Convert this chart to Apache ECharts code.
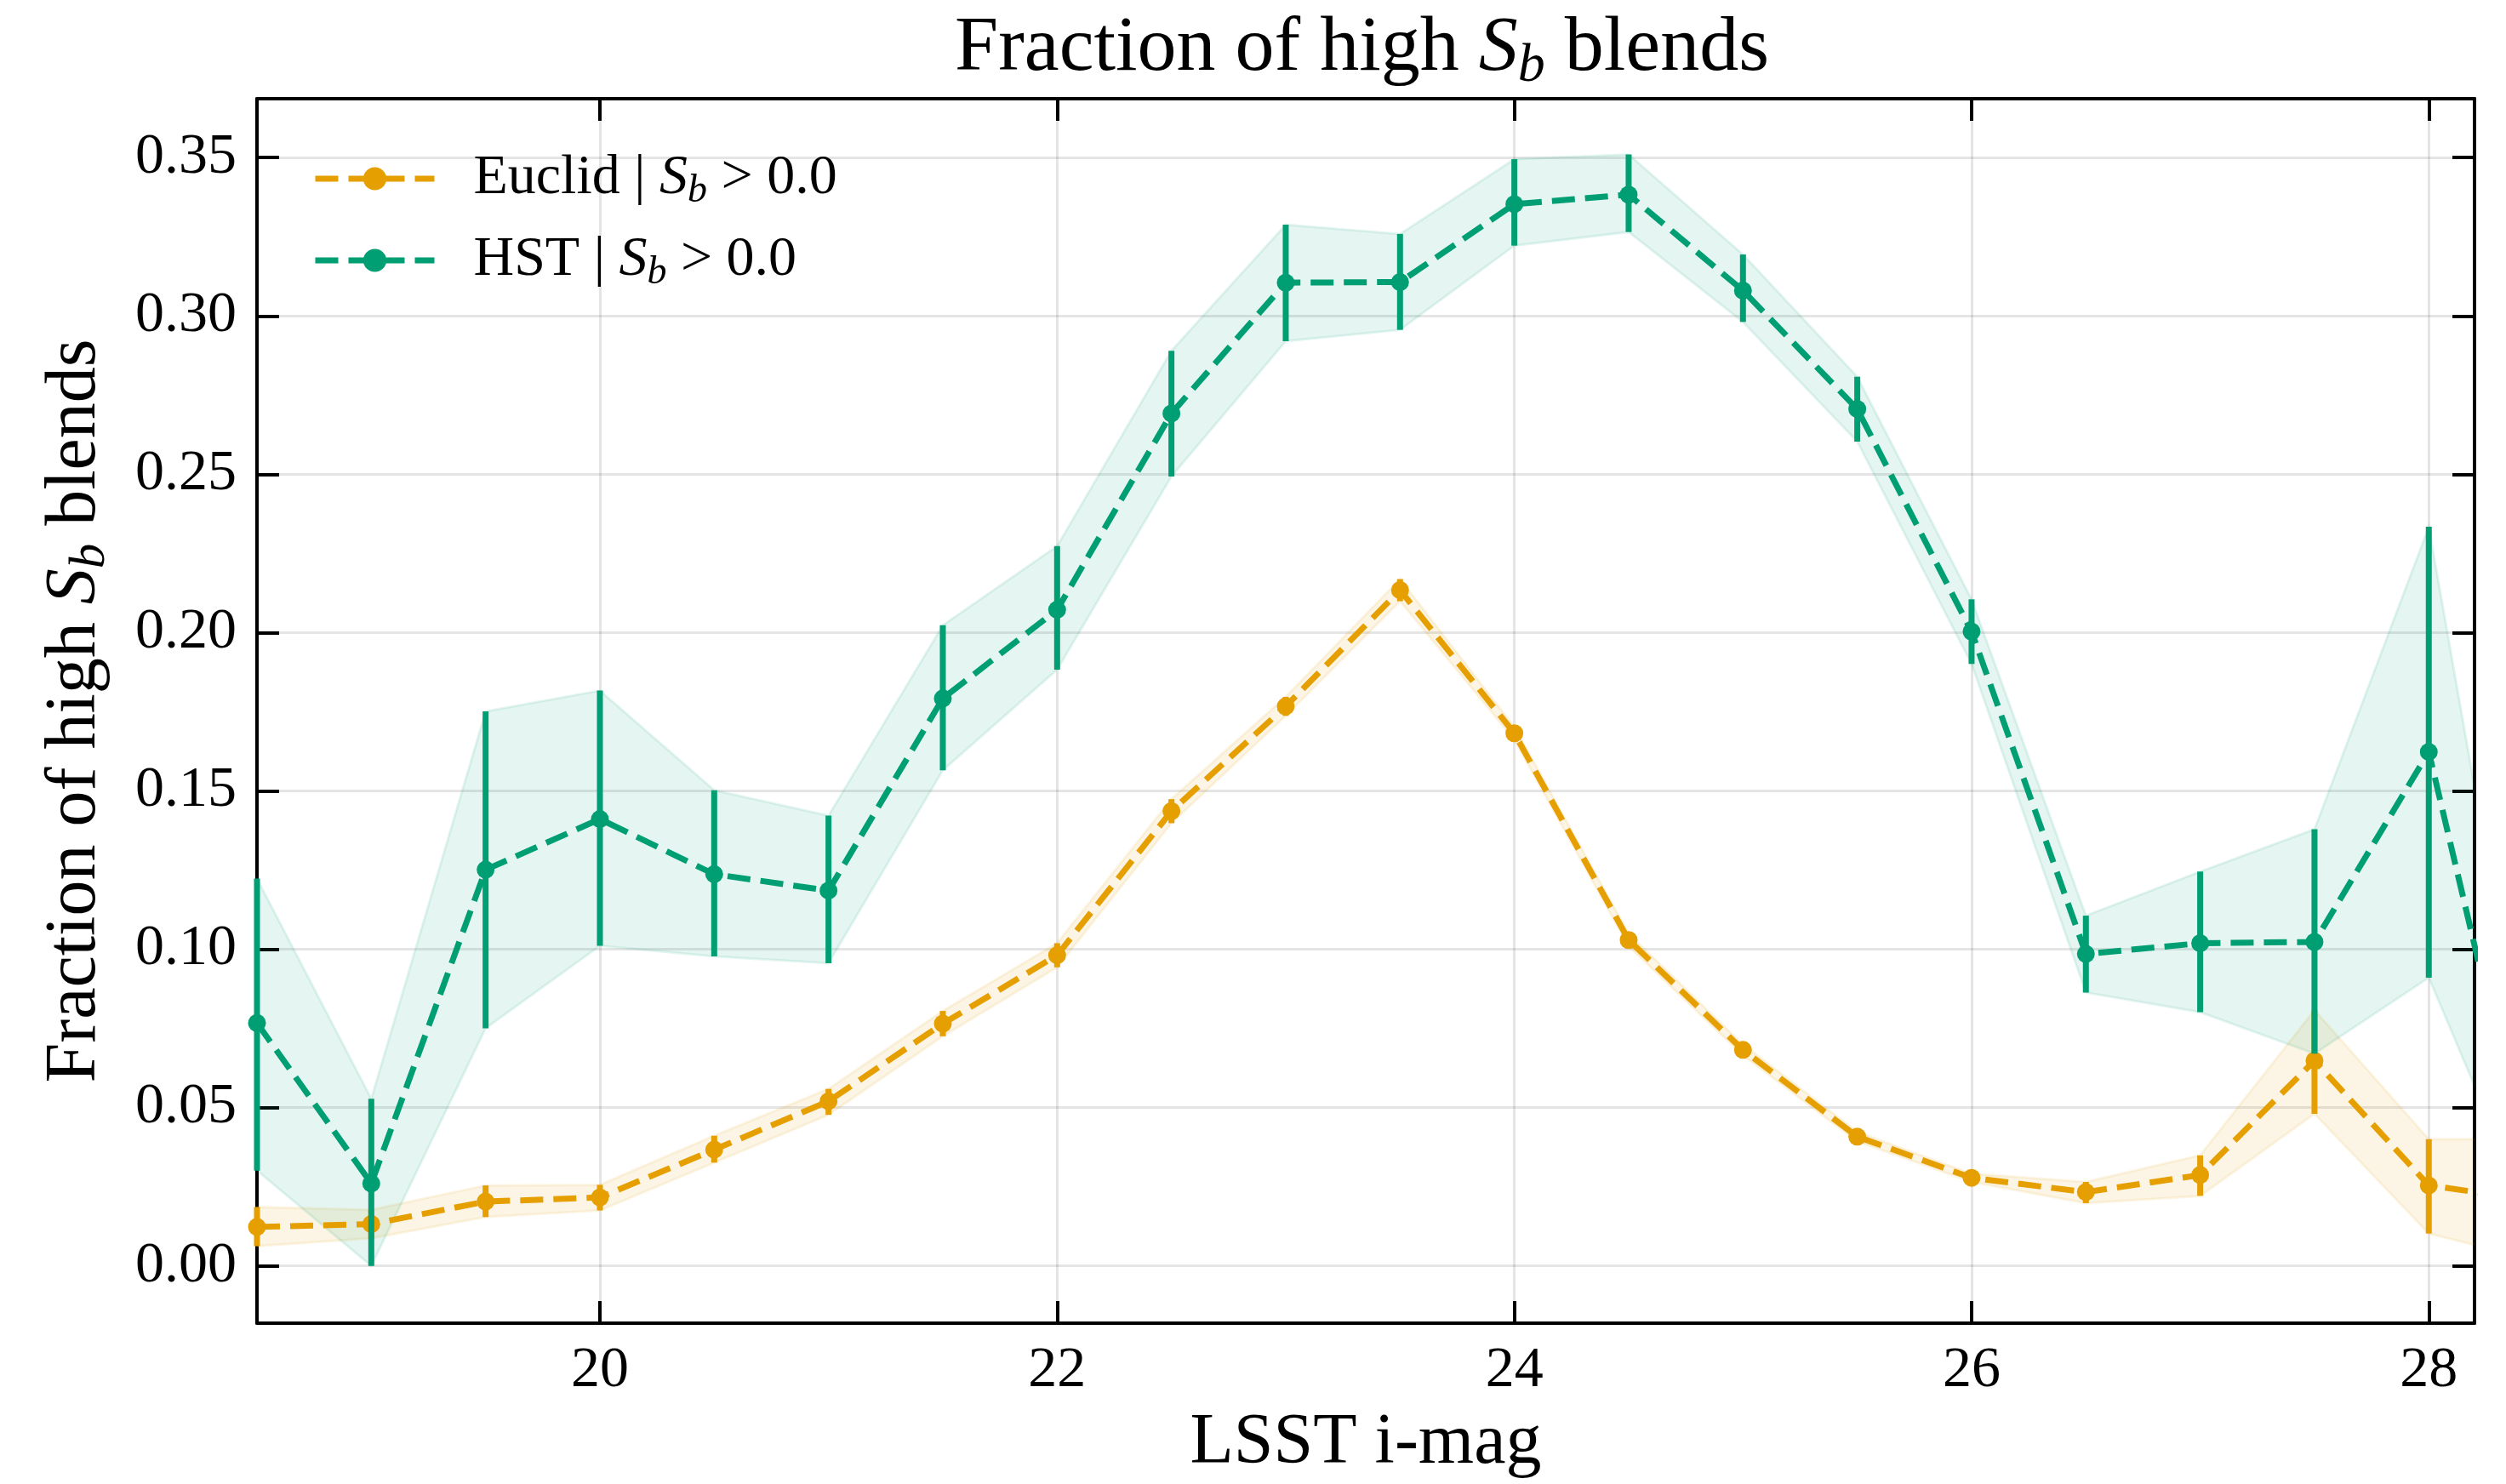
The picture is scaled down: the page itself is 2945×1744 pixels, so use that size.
<!DOCTYPE html>
<html><head><meta charset="utf-8">
<script src="https://cdn.jsdelivr.net/npm/echarts@6/dist/echarts.min.js"></script>
<style>html,body{margin:0;padding:0;background:#fff}#c{width:2945px;height:1744px}</style>
</head><body><div id="c"></div>
<script>
// ---- data ----
const mag = [18.5, 19, 19.5, 20, 20.5, 21, 21.5, 22, 22.5, 23, 23.5, 24, 24.5, 25, 25.5, 26, 26.5, 27, 27.5, 28, 28.5];

const euclid   = [0.0123, 0.0132, 0.0203, 0.0216, 0.0367, 0.0520, 0.0765, 0.0981, 0.1436, 0.1767, 0.2134, 0.1682, 0.1029, 0.0682, 0.0408, 0.0278, 0.0233, 0.0287, 0.0648, 0.0254, 0.0203];
const euclidLo = [0.0062, 0.0087, 0.0154, 0.0175, 0.0326, 0.0477, 0.0725, 0.0943, 0.1398, 0.1737, 0.2099, 0.1662, 0.1009, 0.0665, 0.0393, 0.0265, 0.0198, 0.0221, 0.0480, 0.0102, 0.0012];
const euclidHi = [0.0186, 0.0177, 0.0254, 0.0256, 0.0411, 0.0559, 0.0805, 0.1019, 0.1474, 0.1797, 0.2169, 0.1702, 0.1049, 0.0699, 0.0423, 0.0291, 0.0265, 0.0349, 0.0808, 0.0400, 0.0400];

const hst   = [0.0767, 0.0260, 0.1251, 0.1411, 0.1237, 0.1185, 0.1792, 0.2072, 0.2692, 0.3105, 0.3107, 0.3353, 0.3383, 0.3080, 0.2706, 0.2003, 0.0985, 0.1019, 0.1023, 0.1623, 0.0096];
const hstLo = [0.0301, 0.0000, 0.0750, 0.1011, 0.0977, 0.0956, 0.1565, 0.1883, 0.2493, 0.2920, 0.2956, 0.3222, 0.3265, 0.2981, 0.2603, 0.1901, 0.0863, 0.0801, 0.0670, 0.0910, 0.0056];
const hstHi = [0.1223, 0.0528, 0.1751, 0.1817, 0.1502, 0.1422, 0.2023, 0.2273, 0.2890, 0.3288, 0.3259, 0.3495, 0.3510, 0.3194, 0.2808, 0.2105, 0.1106, 0.1245, 0.1379, 0.2334, 0.0283];

const xTicks = [20, 22, 24, 26, 28];
const yTicks = [0.00, 0.05, 0.10, 0.15, 0.20, 0.25, 0.30, 0.35];

// ---- styling ----
const FONT = '"Liberation Serif", "Times New Roman", serif';
const C_EU = '#E69F00';
const C_HST = '#009E73';
const X_MIN = 18.5, X_MAX = 28.2, Y_MIN = -0.0181, Y_MAX = 0.3686;

function rgba(hex, a) {
  const n = parseInt(hex.slice(1), 16);
  return 'rgba(' + ((n >> 16) & 255) + ',' + ((n >> 8) & 255) + ',' + (n & 255) + ',' + a + ')';
}
function richSet(fs, lh, padW) {
  const sub = Math.round(fs * 0.7);
  const base = { fontFamily: FONT, color: '#000', fontWeight: 'normal' };
  return {
    p: Object.assign({ width: padW || 0, fontSize: fs, lineHeight: lh }, base),
    n: Object.assign({ fontSize: fs, lineHeight: lh }, base),
    i: Object.assign({ fontSize: fs, lineHeight: lh, fontStyle: 'italic' }, base),
    s: Object.assign({ fontSize: sub, lineHeight: sub, fontStyle: 'italic', verticalAlign: 'bottom' }, base)
  };
}

// confidence band: one polygon built from the data through the axis scales
function bandSeries(lo, hi, color) {
  return {
    type: 'custom', z: 1, silent: true, clip: true,
    data: mag.map((m, i) => [m, lo[i], hi[i]]),
    encode: { x: 0, y: [1, 2] },
    renderItem: function (params, api) {
      if (params.dataIndex !== 0) return null;
      const pts = [];
      for (let i = 0; i < mag.length; i++) pts.push(api.coord([mag[i], hi[i]]));
      for (let i = mag.length - 1; i >= 0; i--) pts.push(api.coord([mag[i], lo[i]]));
      const cs = params.coordSys;
      return {
        type: 'polygon', shape: { points: pts },
        style: { fill: rgba(color, 0.1), stroke: rgba(color, 0.1), lineWidth: 3 },
        clipPath: { type: 'rect', shape: { x: cs.x, y: cs.y, width: cs.width, height: cs.height } }
      };
    }
  };
}
function errSeries(lo, hi, color, z) {
  return {
    type: 'custom', z: z, silent: true,
    data: mag.map((m, i) => [m, lo[i], hi[i]]),
    encode: { x: 0, y: [1, 2] },
    renderItem: function (params, api) {
      const x = api.value(0);
      if (x < X_MIN || x > X_MAX) return null;
      const p1 = api.coord([x, api.value(1)]);
      const p2 = api.coord([x, api.value(2)]);
      return { type: 'line', shape: { x1: p1[0], y1: p1[1], x2: p2[0], y2: p2[1] },
               style: { stroke: color, lineWidth: 7 } };
    }
  };
}
function mainSeries(name, vals, color, z) {
  return {
    type: 'line', name: name, data: mag.map((m, i) => [m, vals[i]]), z: z, clip: true,
    symbol: 'circle', symbolSize: 21, showAllSymbol: true,
    lineStyle: { color: color, width: 7, type: [27, 12] },
    itemStyle: { color: color }
  };
}

const axisLine = { show: true, onZero: false, lineStyle: { color: '#000', width: 4 } };
const tickStyle = { show: true, inside: true, length: 26, lineStyle: { color: '#000', width: 4 } };
const splitStyle = { show: true, lineStyle: { color: 'rgba(0,0,0,0.1)', width: 3 } };

const option = {
  animation: false,
  backgroundColor: '#fff',
  title: {
    text: '{n|Fraction of high }{i|S}{s|b}{n| blends}',
    left: 1122, top: 6, padding: 0,
    textStyle: { fontWeight: 'normal', rich: richSet(92, 104) }
  },
  legend: {
    data: ['Euclid', 'HST'],
    orient: 'vertical', left: 362, top: 172, itemWidth: 140, itemHeight: 34, itemGap: 25,
    lineStyle: { width: 7, type: [27, 12] },
    formatter: function (name) {
      return '{p|}{n|' + name + ' | }{i|S}{s|b}{n| > 0.0}';
    },
    textStyle: { rich: richSet(66, 76, 41) }
  },
  grid: { left: 302, right: 37, top: 116, bottom: 188, containLabel: false },
  xAxis: [
    { type: 'value', min: X_MIN, max: X_MAX, position: 'bottom',
      axisLine: axisLine,
      axisTick: Object.assign({ customValues: xTicks }, tickStyle),
      axisLabel: { customValues: xTicks, fontSize: 68, fontFamily: FONT, color: '#000', margin: 22 },
      splitLine: splitStyle,
      name: 'LSST i-mag', nameLocation: 'middle', nameGap: 100,
      nameTextStyle: { fontSize: 84, fontFamily: FONT, color: '#000' } },
    { type: 'value', min: X_MIN, max: X_MAX, position: 'top',
      axisLine: axisLine,
      axisTick: Object.assign({ customValues: xTicks }, tickStyle),
      axisLabel: { show: false }, splitLine: { show: false } }
  ],
  yAxis: [
    { type: 'value', min: Y_MIN, max: Y_MAX, position: 'left',
      axisLine: axisLine,
      axisTick: Object.assign({ customValues: yTicks }, tickStyle),
      axisLabel: { customValues: yTicks, fontSize: 68, fontFamily: FONT, color: '#000', margin: 24,
                   formatter: v => v.toFixed(2) },
      splitLine: splitStyle,
      name: '{n|Fraction of high }{i|S}{s|b}{n| blends}', nameLocation: 'middle', nameRotate: 90, nameGap: 166,
      nameTextStyle: { rich: richSet(84, 94) } },
    { type: 'value', min: Y_MIN, max: Y_MAX, position: 'right',
      axisLine: axisLine,
      axisTick: Object.assign({ customValues: yTicks }, tickStyle),
      axisLabel: { show: false }, splitLine: { show: false } }
  ],
  series: [
    bandSeries(euclidLo, euclidHi, C_EU),
    bandSeries(hstLo, hstHi, C_HST),
    mainSeries('Euclid', euclid, C_EU, 3), errSeries(euclidLo, euclidHi, C_EU, 4),
    mainSeries('HST', hst, C_HST, 5), errSeries(hstLo, hstHi, C_HST, 6)
  ]
};

const chart = echarts.init(document.getElementById('c'));
chart.setOption(option);
</script>
</body></html>
